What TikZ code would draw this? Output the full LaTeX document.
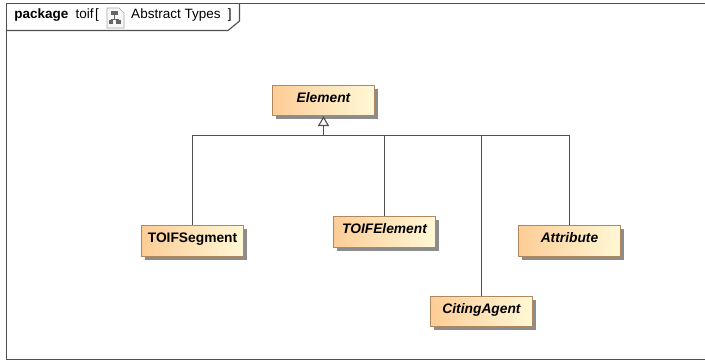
\documentclass[tikz,border=0pt]{standalone}
\usepackage{fontspec}
\setmainfont{Liberation Sans}
\usetikzlibrary{arrows.meta,shadows}
\definecolor{boxedge}{RGB}{176,136,96}
\definecolor{boxleft}{RGB}{253,205,150}
\definecolor{boxright}{RGB}{255,248,214}
\definecolor{lineclr}{RGB}{80,80,80}
\tikzset{
    classbox/.style={draw=boxedge, thick, left color=boxleft, right color=boxright, minimum width=2.53cm, minimum height=0.76cm, text height=7pt, text depth=4.5pt, font=\fontsize{9.8}{11}\selectfont\bfseries, drop shadow={shadow xshift=2.5pt, shadow yshift=-2.5pt, fill=black!45, opacity=1}},
    abstractbox/.style={classbox, font=\fontsize{9.8}{11}\selectfont\bfseries\itshape},
    busline/.style={draw=lineclr, line width=0.8pt},
    generalize/.style={busline, -{Triangle[open, length=7pt, width=8pt]}}
}
\begin{document}
\begin{tikzpicture}[x=0.025cm, y=-0.025cm]
    \useasboundingbox (0,0) rectangle (705,362);
    \fill[white] (0,0) rectangle (705,362);

    % frame and its tab, the right side is cut off
    \draw[busline] (705,3.5) -- (6.5,3.5) -- (6.5,359.5) -- (705,359.5);
    \draw[busline] (6.5,30.5) -- (228,30.5) -- (239.5,21) -- (239.5,3.5);
    \node[anchor=west, inner sep=0pt, font=\fontsize{9.6}{11}\selectfont] (tabtext) at (14,15) {\textbf{package}\hspace{0.55em}toif\hspace{0.1em}[\hspace{2.4em}Abstract Types\hspace{0.55em}]};

    % tab icon
    \draw[black!35, fill=black!3] (107,8) -- (119,8) -- (124,13) -- (124,28) -- (107,28) -- cycle;
    \fill[black!60] (111,11) rectangle (118,15);
    \draw[black!60] (114.5,15) -- (114.5,19) (110.5,19) -- (118.5,19);
    \fill[black!60] (108.5,20) rectangle (113,24);
    \fill[black!60] (116,20) rectangle (120.5,24);

    \node[abstractbox] (element) at (323.5,100.5) {Element};
    \node[classbox] (segment) at (192.5,241) {TOIFSegment};
    \node[abstractbox] (toifelement) at (384.5,232) {TOIFElement};
    \node[abstractbox] (agent) at (481.5,311.5) {CitingAgent};
    \node[abstractbox] (attribute) at (569.5,241) {Attribute};

    % common branch point under Element
    \coordinate (bus) at (323.5,135.5);

    \draw[generalize] (bus) -- (element.south);
    \draw[busline] (segment.north) |- (bus) -| (attribute.north);
    \foreach \child in {toifelement,agent}
        \draw[busline] (\child.north) -- (\child.north |- bus);
\end{tikzpicture}
\end{document}
